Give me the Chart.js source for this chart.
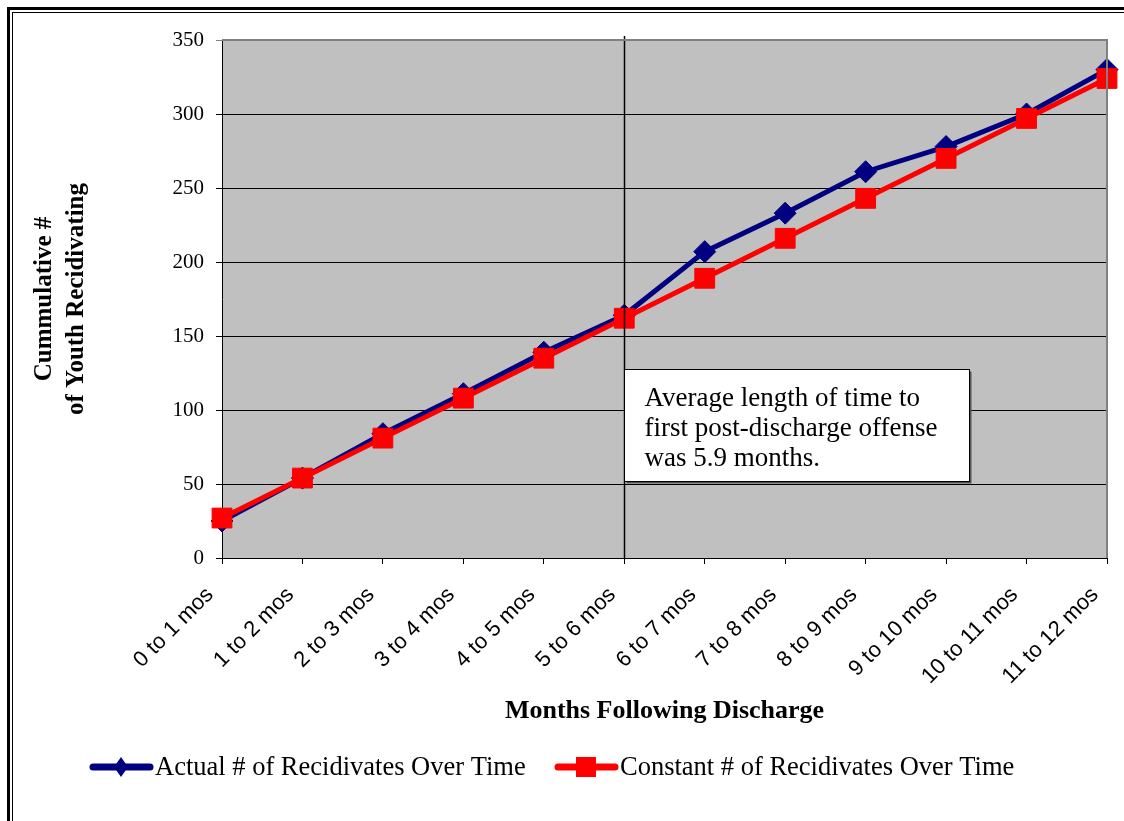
<!DOCTYPE html>
<html>
<head>
<meta charset="utf-8">
<script src="https://cdn.jsdelivr.net/npm/chart.js@4"></script>
<style>
  html, body { margin: 0; padding: 0; background: #fff; }
</style>
</head>
<body>
<canvas id="chart" width="1124" height="821"></canvas>
<script>
// chart values
const months = ['0 to 1 mos', '1 to 2 mos', '2 to 3 mos', '3 to 4 mos', '4 to 5 mos', '5 to 6 mos',
  '6 to 7 mos', '7 to 8 mos', '8 to 9 mos', '9 to 10 mos', '10 to 11 mos', '11 to 12 mos'];
const actualRecidivates = [25, 54, 84, 111, 139, 164, 207, 233, 261, 278, 300, 330];
const constantRecidivates = [27, 54, 81, 108, 135, 162, 189, 216, 243, 270, 297, 324];
const seriesNames = ['Actual # of Recidivates Over Time', 'Constant # of Recidivates Over Time'];
const yMin = 0, yMax = 350, yStep = 50;
const averageIndex = 5; // vertical marker sits on "5 to 6 mos"
const noteLines = ['Average length of time to', 'first post-discharge offense', 'was 5.9 months.'];
const xTitle = 'Months Following Discharge';
const yTitle = ['Cummulative #', 'of Youth Recidivating'];

const NAVY = '#000080';
const RED = '#FF0000';
const SERIF = '"Liberation Serif", "Times New Roman", serif';
const SANS = '"Liberation Sans", Arial, sans-serif';

const decor = {
  id: 'decor',
  beforeDraw(chart) {
    const { ctx, chartArea: a } = chart;
    ctx.save();
    ctx.fillStyle = '#fff';
    ctx.fillRect(0, 0, chart.width, chart.height);
    ctx.fillStyle = '#C0C0C0';
    ctx.fillRect(a.left, a.top, a.right - a.left, a.bottom - a.top);
    // page frame (thick + thin line)
    ctx.strokeStyle = '#000';
    ctx.lineWidth = 3;
    ctx.strokeRect(8.5, 8.5, chart.width + 20, chart.height + 20);
    ctx.lineWidth = 1;
    ctx.strokeRect(12.5, 12.5, chart.width + 20, chart.height + 20);
    ctx.restore();
  },
  afterDatasetsDraw(chart) {
    const { ctx, chartArea: a, scales: { x, y } } = chart;
    const lx = Math.round(x.getPixelForValue(averageIndex)) + 0.5;
    ctx.save();
    // vertical line at the average
    ctx.strokeStyle = '#000';
    ctx.lineWidth = 1.5;
    ctx.beginPath();
    ctx.moveTo(lx, a.top - 4);
    ctx.lineTo(lx, a.bottom);
    ctx.stroke();

    // note box
    const top = Math.round(y.getPixelForValue(128)) + 0.5;
    const bottom = Math.round(y.getPixelForValue(52)) + 0.5;
    const w = 345;
    ctx.fillStyle = '#555';
    ctx.fillRect(lx + 2, top + 2, w, bottom - top);
    ctx.fillStyle = '#fff';
    ctx.fillRect(lx, top, w, bottom - top);
    ctx.lineWidth = 1;
    ctx.strokeRect(lx, top, w, bottom - top);
    ctx.fillStyle = '#000';
    ctx.font = '27px ' + SERIF;
    ctx.textAlign = 'left';
    ctx.textBaseline = 'alphabetic';
    noteLines.forEach((t, i) => ctx.fillText(t, lx + 20, top + 36 + i * 30));

    // gray plot border on top / right
    ctx.strokeStyle = '#808080';
    ctx.lineWidth = 2;
    ctx.beginPath();
    ctx.moveTo(a.left, a.top);
    ctx.lineTo(a.right, a.top);
    ctx.lineTo(a.right, a.bottom);
    ctx.stroke();
    ctx.restore();
  },
  afterDraw(chart) {
    const { ctx, chartArea: a } = chart;
    ctx.save();
    ctx.fillStyle = '#000';
    ctx.font = 'bold 26px ' + SERIF;
    ctx.textAlign = 'center';
    ctx.textBaseline = 'middle';
    ctx.fillText(xTitle, (a.left + a.right) / 2, 711);

    ctx.translate(61, (a.top + a.bottom) / 2);
    ctx.rotate(-Math.PI / 2);
    ctx.font = 'bold 25px ' + SERIF;
    ctx.fillText(yTitle[0], 0, -16);
    ctx.fillText(yTitle[1], 0, 16);
    ctx.restore();

    // legend
    const items = chart.data.datasets.slice().sort((p, q) => p.legendPos - q.legendPos);
    const starts = [90, 555];
    const ly = 767;
    ctx.save();
    items.forEach((ds, i) => {
      const x0 = starts[i];
      ctx.strokeStyle = ds.borderColor;
      ctx.lineWidth = 7;
      ctx.lineCap = 'round';
      ctx.beginPath();
      ctx.moveTo(x0 + 3, ly);
      ctx.lineTo(x0 + 60, ly);
      ctx.stroke();
      ctx.fillStyle = ds.borderColor;
      const cx = x0 + 31;
      if (ds.pointStyle === 'rect') {
        ctx.fillRect(cx - 10, ly - 10, 20, 20);
      } else {
        ctx.beginPath();
        ctx.moveTo(cx, ly - 10);
        ctx.lineTo(cx + 7, ly);
        ctx.lineTo(cx, ly + 10);
        ctx.lineTo(cx - 7, ly);
        ctx.closePath();
        ctx.fill();
      }
      ctx.fillStyle = '#000';
      ctx.font = '26.5px ' + SERIF;
      ctx.textAlign = 'left';
      ctx.textBaseline = 'middle';
      ctx.fillText(ds.label, x0 + 65, ly + 1);
    });
    ctx.restore();
  }
};

new Chart(document.getElementById('chart'), {
  type: 'line',
  data: {
    labels: months,
    datasets: [
      {
        label: seriesNames[0],
        data: actualRecidivates,
        borderColor: NAVY,
        backgroundColor: NAVY,
        borderWidth: 5,
        pointStyle: 'rectRot',
        pointRadius: 11,
        pointBorderWidth: 1,
        tension: 0,
        clip: false,
        order: 1,
        legendPos: 0
      },
      {
        label: seriesNames[1],
        data: constantRecidivates,
        borderColor: RED,
        backgroundColor: RED,
        borderWidth: 5,
        pointStyle: 'rect',
        pointRadius: 14,
        pointBorderWidth: 1,
        tension: 0,
        clip: false,
        order: 0,
        legendPos: 1
      }
    ]
  },
  options: {
    responsive: false,
    animation: false,
    devicePixelRatio: 1,
    layout: { padding: { top: 40, right: 17, left: 0, bottom: 0 } },
    plugins: {
      legend: { display: false },
      tooltip: { enabled: false }
    },
    scales: {
      x: {
        offset: false,
        grid: { drawOnChartArea: false, drawTicks: true, tickLength: 6, color: '#000' },
        border: { color: '#000', width: 1 },
        ticks: {
          font: { family: SANS, size: 22 },
          color: '#000',
          minRotation: 45,
          maxRotation: 45,
          autoSkip: false,
          padding: 18,
          labelOffset: -12
        },
        afterFit: s => {
          s.height = 263;
          s.paddingLeft = 0;
          s.paddingRight = 0;
        }
      },
      y: {
        min: yMin,
        max: yMax,
        grid: {
          color: c => (c.tick && c.tick.value === yMax ? '#808080' : '#000'),
          tickLength: 6
        },
        border: { color: '#000', width: 1 },
        ticks: {
          stepSize: yStep,
          font: { family: SERIF, size: 21 },
          color: '#000',
          padding: 12
        },
        afterFit: s => {
          s.width = 222;
          s.paddingTop = 0;
          s.paddingBottom = 0;
        }
      }
    }
  },
  plugins: [decor]
});
</script>
</body>
</html>
